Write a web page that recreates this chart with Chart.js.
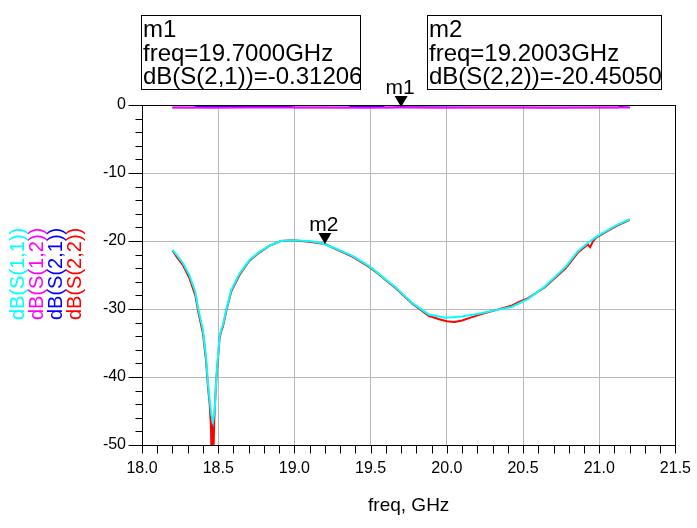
<!DOCTYPE html>
<html><head><meta charset="utf-8">
<script src="https://cdn.jsdelivr.net/npm/chart.js@4.4.0/dist/chart.umd.min.js"></script>
<style>html,body{margin:0;padding:0;background:#fff}#wrap{width:697px;height:528px}</style>
</head><body><div id="wrap"><canvas id="c" width="697" height="528"></canvas></div>
<script>
const xTickLabels = ['18.0','18.5','19.0','19.5','20.0','20.5','21.0','21.5'];
const yTickLabels = ['-50','-40','-30','-20','-10','0'];
const xAxisTitle = 'freq, GHz';

const seriesNames = ['dB(S(1,1))','dB(S(1,2))','dB(S(2,1))','dB(S(2,2))'];
const seriesColors = ['#00ffff','#ff00ff','#0000ff','#ff0000'];

const freqS11 = [18.20,18.23,18.27,18.31,18.35,18.37,18.40,18.42,18.433,18.444,18.455,18.466,18.477,18.488,18.498,18.509,18.52,18.531,18.553,18.586,18.64,18.705,18.771,18.836,18.912,18.988,19.097,19.173,19.271,19.38,19.49,19.554,19.59,19.663,19.772,19.881,19.99,20.098,20.207,20.316,20.425,20.534,20.643,20.751,20.78,20.86,20.925,20.98,21.056,21.121,21.2];
const dbS11 = [-21.3,-22.1,-23.3,-25.0,-27.5,-30.1,-33.1,-37.0,-41.0,-43.4,-45.5,-46.6,-44.9,-40.0,-37.2,-34.0,-33.0,-32.4,-30.1,-27.2,-24.8,-22.8,-21.6,-20.7,-20.0,-19.9,-20.0,-20.3,-21.1,-22.2,-23.7,-24.8,-25.5,-26.8,-29.1,-30.8,-31.3,-31.1,-30.7,-30.2,-29.7,-28.5,-26.7,-24.4,-23.8,-21.5,-20.3,-19.4,-18.4,-17.6,-16.8];

const freqS22 = [18.20,18.23,18.27,18.31,18.35,18.37,18.40,18.42,18.433,18.444,18.452,18.455,18.46,18.465,18.47,18.473,18.48,18.488,18.498,18.509,18.52,18.531,18.553,18.586,18.64,18.705,18.771,18.836,18.912,18.988,19.097,19.2003,19.271,19.38,19.49,19.554,19.59,19.663,19.772,19.881,19.95,20.0,20.05,20.10,20.15,20.207,20.25,20.316,20.425,20.47,20.534,20.643,20.751,20.78,20.86,20.925,20.94,20.96,20.98,21.056,21.121,21.2];
const dbS22 = [-21.4,-22.4,-23.6,-25.4,-28.0,-30.5,-33.6,-37.6,-41.5,-44.0,-47.0,-50.5,-47.5,-46.8,-50.5,-47.0,-43.5,-40.2,-37.4,-34.3,-33.2,-32.6,-30.3,-27.4,-25.0,-22.9,-21.7,-20.7,-20.0,-19.9,-20.1,-20.45,-21.2,-22.3,-23.8,-24.9,-25.6,-26.9,-29.2,-31.0,-31.5,-31.8,-31.9,-31.7,-31.3,-30.9,-30.6,-30.2,-29.5,-29.0,-28.4,-26.8,-24.6,-24.0,-21.7,-20.5,-20.9,-20.0,-19.5,-18.5,-17.7,-16.9];

const freqS21 = [18.2,18.34,18.36,18.6,18.98,19.0,19.35,19.37,19.58,19.6,19.7,20.2,20.7,21.12,21.14,21.2];
const dbS21 = [-0.38,-0.38,-0.24,-0.25,-0.24,-0.38,-0.38,-0.25,-0.25,-0.38,-0.31,-0.38,-0.38,-0.38,-0.25,-0.38];
const freqS12 = [18.2,18.45,18.7,18.95,19.2,19.45,19.7,19.95,20.2,20.45,20.7,20.95,21.2];
const dbS12 = [-0.38,-0.39,-0.37,-0.38,-0.38,-0.39,-0.38,-0.39,-0.38,-0.38,-0.39,-0.38,-0.38];

const markerNames = ['m1','m2'];
const markerFreqs = [19.7, 19.2003];
const markerValues = [-0.31206, -20.4505];
const markerTraces = ['dB(S(2,1))','dB(S(2,2))'];
const markerFreqText = ['19.7000GHz','19.2003GHz'];
const markerValueText = ['-0.31206','-20.45050'];

const FONT = "'Liberation Sans', Arial, sans-serif";
const pts = (xs, ys) => xs.map((v, i) => ({x: v, y: ys[i]}));

const annot = {
  id: 'annot',
  afterDraw(chart) {
    const {ctx, chartArea: a, scales: {x, y}} = chart;
    ctx.save();
    ctx.strokeStyle = '#000'; ctx.lineWidth = 1;
    const L = Math.round(a.left) + 0.5, R = Math.round(a.right) + 0.5;
    const T = Math.round(a.top) + 0.5, B = Math.round(a.bottom) + 0.5;
    ctx.strokeRect(L, T, R - L, B - T);
    ctx.beginPath();
    for (let i = 0; i <= 35; i++) {
      const px = Math.round(x.getPixelForValue(18 + i * 0.1)) + 0.5;
      ctx.moveTo(px, B); ctx.lineTo(px, B + 8);
    }
    for (let i = 0; i <= 25; i++) {
      const v = -50 + i * 2;
      const py = Math.round(y.getPixelForValue(v)) + 0.5;
      const len = (v % 10 === 0) ? 14 : 7;
      ctx.moveTo(L, py); ctx.lineTo(L - len, py);
    }
    ctx.stroke();

    ctx.font = '20px ' + FONT;
    ctx.textAlign = 'left'; ctx.textBaseline = 'alphabetic';
    seriesNames.forEach((n, i) => {
      ctx.save();
      ctx.translate(24 + i * 19, 320);
      ctx.rotate(-Math.PI / 2);
      ctx.fillStyle = seriesColors[i];
      ctx.fillText(n, 0, 0);
      ctx.restore();
    });

    ctx.fillStyle = '#000';
    ctx.font = '19px ' + FONT;
    ctx.textAlign = 'center';
    ctx.fillText(xAxisTitle, (a.left + a.right) / 2, 511);

    ctx.font = '21px ' + FONT;
    markerNames.forEach((m, i) => {
      const px = x.getPixelForValue(markerFreqs[i]);
      const py = y.getPixelForValue(markerValues[i]);
      ctx.beginPath();
      ctx.moveTo(px - 6.5, py - 11); ctx.lineTo(px + 6.5, py - 11); ctx.lineTo(px, py); ctx.closePath();
      ctx.fill();
      ctx.textAlign = 'center';
      ctx.fillText(m, px - 1, py - 13);
    });

    const boxes = [{x: 141.5, y: 15.5, w: 219, h: 74}, {x: 427.5, y: 15.5, w: 234, h: 74}];
    boxes.forEach((b, i) => {
      ctx.strokeRect(b.x, b.y, b.w, b.h);
      ctx.save();
      ctx.beginPath(); ctx.rect(b.x, b.y, b.w, b.h); ctx.clip();
      ctx.textAlign = 'left';
      ctx.font = '24px ' + FONT;
      ctx.fillText(markerNames[i], b.x + 1.5, 37);
      ctx.fillText('freq=' + markerFreqText[i], b.x + 1.5, 60.5);
      ctx.fillText(markerTraces[i] + '=' + markerValueText[i], b.x + 1.5, 84);
      ctx.restore();
    });
    ctx.restore();
  }
};

const ds = (label, xs, ys, color, w) => ({
  label, data: pts(xs, ys), borderColor: color, backgroundColor: color,
  borderWidth: w, pointRadius: 0, tension: 0, fill: false
});

new Chart(document.getElementById('c'), {
  type: 'line',
  data: {
    datasets: [
      ds(seriesNames[0], freqS11, dbS11, seriesColors[0], 2),
      ds(seriesNames[1], freqS12, dbS12, seriesColors[1], 2),
      ds(seriesNames[2], freqS21, dbS21, seriesColors[2], 1.5),
      ds(seriesNames[3], freqS22, dbS22, seriesColors[3], 2)
    ]
  },
  options: {
    responsive: false, animation: false,
    layout: {padding: {top: 105, right: 19, left: 0, bottom: 0}},
    plugins: {legend: {display: false}, tooltip: {enabled: false}},
    scales: {
      x: {
        type: 'linear', min: 18, max: 21.5,
        afterFit: s => { s.height = 83; },
        afterBuildTicks: s => { s.ticks = xTickLabels.map(t => ({value: parseFloat(t)})); },
        ticks: {callback: (v, i) => xTickLabels[i], color: '#000', font: {family: FONT, size: 16}, padding: 6, maxRotation: 0, autoSkip: false},
        grid: {color: '#b8b8b8', lineWidth: 1, tickLength: 8, tickColor: 'rgba(0,0,0,0)'},
        border: {display: true, color: '#000', width: 1}
      },
      y: {
        type: 'linear', min: -50, max: 0,
        afterFit: s => { s.width = 142; },
        afterBuildTicks: s => { s.ticks = yTickLabels.map(t => ({value: parseFloat(t)})); },
        ticks: {callback: (v, i) => yTickLabels[i], color: '#000', font: {family: FONT, size: 16}, padding: 2, autoSkip: false},
        grid: {color: '#b8b8b8', lineWidth: 1, tickLength: 14, tickColor: 'rgba(0,0,0,0)'},
        border: {display: true, color: '#000', width: 1}
      }
    }
  },
  plugins: [annot]
});
</script></body></html>
